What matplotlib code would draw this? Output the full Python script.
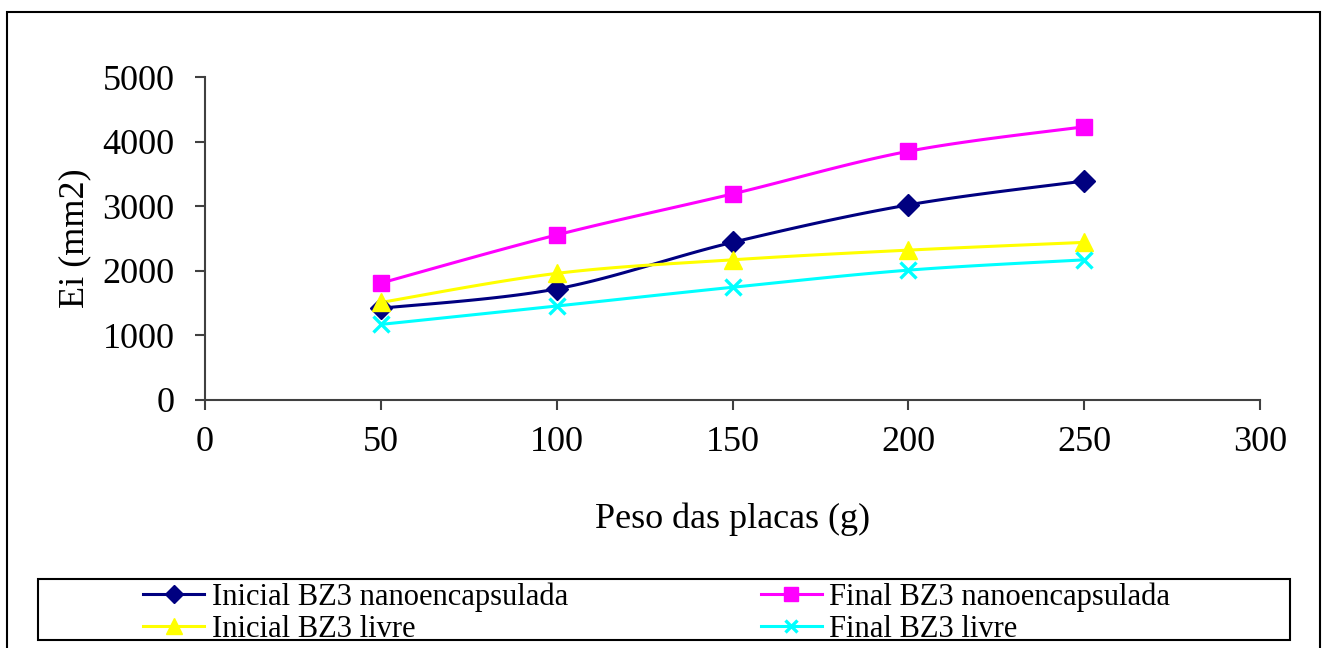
import numpy as np
import matplotlib
matplotlib.use("Agg")
import matplotlib.pyplot as plt
from matplotlib.patches import Rectangle

# data
peso = [50, 100, 150, 200, 250]
inicial_nano = [1420, 1720, 2440, 3020, 3390]
final_nano = [1810, 2555, 3190, 3850, 4230]
inicial_livre = [1510, 1960, 2170, 2320, 2440]
final_livre = [1170, 1455, 1745, 2010, 2170]

labels = ["Inicial BZ3 nanoencapsulada", "Final BZ3 nanoencapsulada",
          "Inicial BZ3 livre", "Final BZ3 livre"]
x_ticks = [0, 50, 100, 150, 200, 250, 300]
y_ticks = [0, 1000, 2000, 3000, 4000, 5000]


def smooth(xs, ys, n=30):
    """Catmull-Rom curve through the points (like Excel's smoothed line)."""
    xs = np.asarray(xs, float)
    ys = np.asarray(ys, float)
    px = np.concatenate([[xs[0]], xs, [xs[-1]]])
    py = np.concatenate([[ys[0]], ys, [ys[-1]]])
    out_x, out_y = [], []
    t = np.linspace(0, 1, n)
    for i in range(1, len(px) - 2):
        for p, out in ((px, out_x), (py, out_y)):
            p0, p1, p2, p3 = p[i - 1], p[i], p[i + 1], p[i + 2]
            c1 = p1 + (p2 - p0) / 6
            c2 = p2 - (p3 - p1) / 6
            seg = ((1 - t) ** 3 * p1 + 3 * (1 - t) ** 2 * t * c1
                   + 3 * (1 - t) * t ** 2 * c2 + t ** 3 * p2)
            out.extend(seg)
    return out_x, out_y


plt.rcParams["font.family"] = ["Liberation Serif", "DejaVu Serif"]

fig = plt.figure(figsize=(13.22, 6.48), dpi=100)
ax = fig.add_axes([205 / 1322, 1 - 400 / 648, 1055 / 1322, 323 / 648])

series = [
    (inicial_nano, "#000080", "D", 11, 1.0),
    (final_nano, "#FF00FF", "s", 12, 1.0),
    (inicial_livre, "#FFFF00", "^", 13, 1.0),
    (final_livre, "#00FFFF", "x", 11, 2.4),
]
handles = []
for (ys, col, mk, ms, mew), lab in zip(series, labels):
    sx, sy = smooth(peso, ys)
    ax.plot(sx, sy, color=col, lw=2.2, zorder=2)
    ax.plot(peso, ys, linestyle="none", marker=mk, color=col, ms=ms,
            mew=mew, zorder=3)
    h, = ax.plot([], [], color=col, lw=2.2, marker=mk, ms=ms * 0.85, mew=mew,
                 label=lab)
    handles.append(h)

ax.set_xlim(0, 300)
ax.set_ylim(0, 5000)
ax.set_xticks(x_ticks)
ax.set_yticks(y_ticks)
for s in ["top", "right"]:
    ax.spines[s].set_visible(False)
for s in ["left", "bottom"]:
    ax.spines[s].set_color("#404040")
    ax.spines[s].set_linewidth(1.5)
ax.tick_params(axis="both", colors="#404040", length=7, width=1.5,
               labelcolor="black", labelsize=26)
ax.tick_params(axis="y", pad=15)
ax.tick_params(axis="x", pad=12)
ax.set_xlabel("Peso das placas (g)", fontsize=26, labelpad=31)
ax.set_ylabel("Ei (mm2)", fontsize=26, labelpad=8)

# legend box and outer frame
fig.patches.append(Rectangle((38 / 1322, 1 - 640 / 648), (1290 - 38) / 1322,
                             61 / 648, transform=fig.transFigure,
                             fill=False, ec="black", lw=1.5))
fig.patches.append(Rectangle((7 / 1322, -0.05), (1320 - 7) / 1322,
                             1.05 - 12 / 648, transform=fig.transFigure,
                             fill=False, ec="black", lw=1.5))

# order so rows read: Inicial nano | Final nano, Inicial livre | Final livre
order = [0, 2, 1, 3]
fig.legend([handles[i] for i in order], [labels[i] for i in order],
           loc="center left", bbox_to_anchor=(143 / 1322, 1 - 613 / 648),
           ncol=2, frameon=False, fontsize=22, borderpad=0, borderaxespad=0,
           handlelength=2.0, handletextpad=0.25, columnspacing=6.3,
           labelspacing=0.1)

fig.savefig("out.png", dpi=100)
